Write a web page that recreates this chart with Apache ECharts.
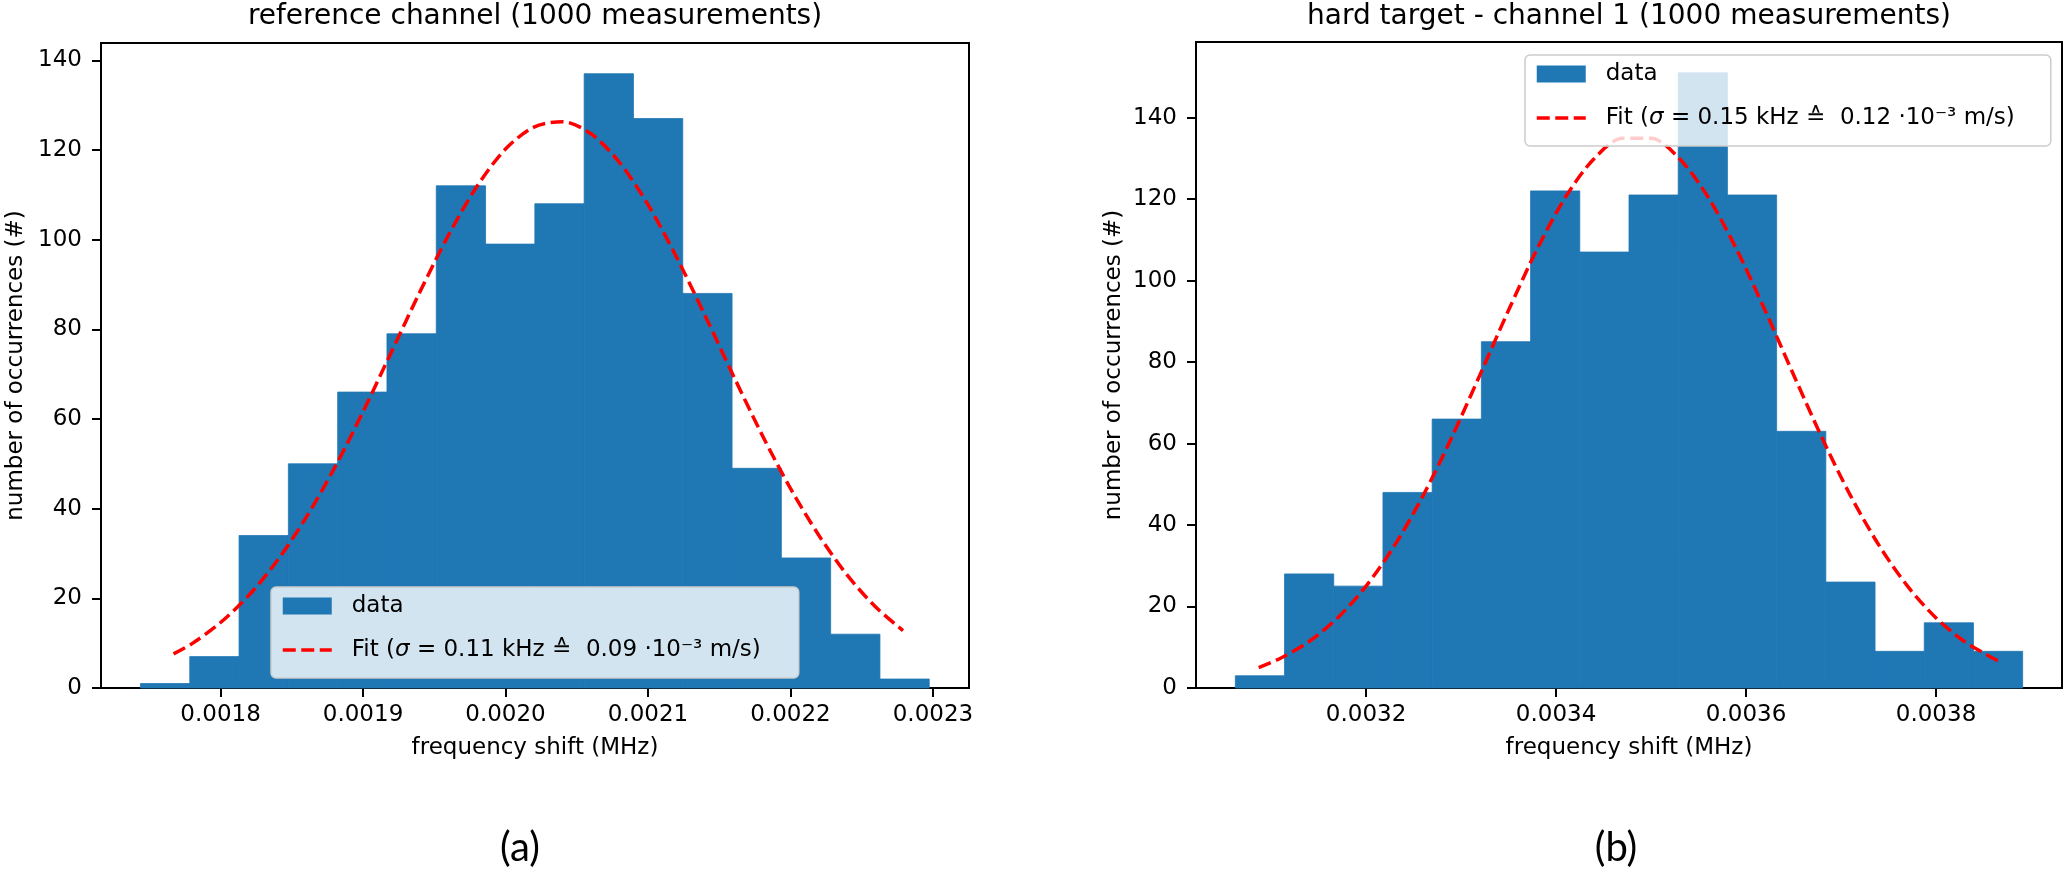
<!DOCTYPE html>
<html><head><meta charset="utf-8">
<script src="https://cdn.jsdelivr.net/npm/echarts@6/dist/echarts.min.js"></script>
<style>html,body{margin:0;padding:0;background:#fff}#c{width:2067px;height:869px}</style>
</head><body><div id="c"></div>
<script>
// ---- chart (a): reference channel ----
const binEdgesA = [0.0017438, 0.0017784, 0.0018130, 0.0018476, 0.0018822, 0.0019168, 0.0019514, 0.0019860, 0.0020206, 0.0020552, 0.0020898, 0.0021244, 0.0021590, 0.0021936, 0.0022282, 0.0022628, 0.0022974];
const countsA = [1, 7, 34, 50, 66, 79, 112, 99, 108, 137, 127, 88, 49, 29, 12, 2];
const fitXA = [0.001767, 0.00178, 0.0018, 0.00182, 0.00184, 0.00186, 0.00188, 0.0019, 0.00192, 0.00194, 0.00196, 0.00198, 0.002, 0.00202, 0.00204, 0.00206, 0.00208, 0.0021, 0.00212, 0.00214, 0.00216, 0.00218, 0.0022, 0.00222, 0.00224, 0.00226, 0.002279];
const fitYA = [7.6, 9.9, 14.6, 20.7, 28.5, 38.0, 49.1, 61.6, 75.0, 88.4, 101.0, 111.9, 120.2, 125.1, 126.3, 123.6, 117.2, 107.8, 96.1, 83.1, 69.6, 56.5, 44.5, 34.0, 25.1, 18.0, 12.8];
const xTicksA = [0.0018, 0.0019, 0.0020, 0.0021, 0.0022, 0.0023];
const yTicksA = [0, 20, 40, 60, 80, 100, 120, 140];
const titleA = 'reference channel (1000 measurements)';
const fitNameA = 'Fit (σ = 0.11 kHz ≙  0.09 ·10⁻³ m/s)';

// ---- chart (b): hard target - channel 1 ----
const binEdgesB = [0.0030624, 0.0031142, 0.0031660, 0.0032178, 0.0032696, 0.0033214, 0.0033732, 0.0034250, 0.0034768, 0.0035286, 0.0035804, 0.0036322, 0.0036840, 0.0037358, 0.0037876, 0.0038394, 0.0038912];
const countsB = [3, 28, 25, 48, 66, 85, 122, 107, 121, 151, 121, 63, 26, 9, 16, 9];
const fitXB = [0.003087, 0.00311, 0.00314, 0.00317, 0.0032, 0.00323, 0.00326, 0.00329, 0.00332, 0.00335, 0.00338, 0.00341, 0.00344, 0.00347, 0.0035, 0.00353, 0.00356, 0.00359, 0.00362, 0.00365, 0.00368, 0.00371, 0.00374, 0.00377, 0.0038, 0.00383, 0.00386, 0.003866];
const fitYB = [5.0, 7.3, 11.4, 17.2, 25.0, 35.0, 47.2, 61.4, 76.9, 92.7, 107.7, 120.5, 129.9, 134.9, 134.9, 129.9, 120.5, 107.7, 92.7, 76.9, 61.4, 47.2, 35.0, 25.0, 17.2, 11.4, 7.3, 6.6];
const xTicksB = [0.0032, 0.0034, 0.0036, 0.0038];
const yTicksB = [0, 20, 40, 60, 80, 100, 120, 140];
const titleB = 'hard target - channel 1 (1000 measurements)';
const fitNameB = 'Fit (σ = 0.15 kHz ≙  0.12 ·10⁻³ m/s)';

const dataName = 'data';
const xName = 'frequency shift (MHz)';
const yName = 'number of occurrences (#)';
const panelLabels = ['(a)', '(b)'];

const FONT = 'DejaVu Sans';
const BLUE = '#1f77b4';
const RED = '#ff0000';
const DASH = [13, 5.5];

function bins(edges, counts) {
  return counts.map((c, i) => [edges[i], edges[i + 1], c]);
}
function pts(xs, ys) { return xs.map((x, i) => [x, ys[i]]); }

function renderBin(params, api) {
  const p0 = api.coord([api.value(0), 0]);
  const p1 = api.coord([api.value(1), api.value(2)]);
  return {
    type: 'rect',
    shape: { x: p0[0], y: p1[1], width: p1[0] - p0[0], height: p0[1] - p1[1] },
    style: { fill: BLUE, stroke: BLUE, lineWidth: 0.8 }
  };
}

function xAxisCfg(idx, min, max, ticks) {
  return {
    type: 'value', gridIndex: idx, min: min, max: max,
    name: xName, nameLocation: 'middle', nameGap: 49,
    nameTextStyle: { fontFamily: FONT, fontSize: 23, color: '#000' },
    axisLine: { onZero: false, lineStyle: { color: '#000', width: 2 } },
    axisTick: { show: true, length: 9, lineStyle: { color: '#000', width: 2 }, customValues: ticks },
    axisLabel: { fontFamily: FONT, fontSize: 23, color: '#000', margin: 16, customValues: ticks,
      formatter: v => Number(v).toFixed(4) },
    splitLine: { show: false }
  };
}
function yAxisCfg(idx, max, ticks, gap) {
  return {
    type: 'value', gridIndex: idx, min: 0, max: max,
    name: yName, nameLocation: 'middle', nameGap: gap,
    nameTextStyle: { fontFamily: FONT, fontSize: 23, color: '#000' },
    axisLine: { onZero: false, lineStyle: { color: '#000', width: 2 } },
    axisTick: { show: true, length: 9, lineStyle: { color: '#000', width: 2 }, customValues: ticks },
    axisLabel: { fontFamily: FONT, fontSize: 23, color: '#000', margin: 19, customValues: ticks },
    splitLine: { show: false }
  };
}
function legendCfg(left, top, fitName, padRight) {
  return {
    left: left, top: top, orient: 'vertical',
    data: [
      { name: dataName, icon: 'rect' },
      { name: fitName, itemStyle: { opacity: 0 }, lineStyle: { color: RED, width: 3.5, type: DASH } }
    ],
    itemWidth: 49, itemHeight: 17, itemGap: 20,
    padding: [7, padRight, 16, 10],
    backgroundColor: 'rgba(255,255,255,0.8)',
    borderColor: '#cccccc', borderWidth: 1.5, borderRadius: 5,
    selectedMode: false,
    textStyle: { fontFamily: FONT, fontSize: 23, color: '#000', lineHeight: 24, padding: [0, 0, 0, 15],
      rich: { i: { fontFamily: FONT, fontSize: 23, fontStyle: 'italic', color: '#000', lineHeight: 24 } } },
    formatter: n => n.replace('σ', '{i|σ}')
  };
}

const chart = echarts.init(document.getElementById('c'), null, { renderer: 'canvas' });
chart.setOption({
  animation: false,
  backgroundColor: '#ffffff',
  grid: [
    { left: 101, right: 2067 - 969, top: 43, bottom: 869 - 688, show: true, borderColor: '#000', borderWidth: 2 },
    { left: 1196, right: 2067 - 2062, top: 42, bottom: 869 - 688, show: true, borderColor: '#000', borderWidth: 2 }
  ],
  xAxis: [xAxisCfg(0, 0.0017161, 0.0023253, xTicksA), xAxisCfg(1, 0.003021, 0.0039326, xTicksB)],
  yAxis: [yAxisCfg(0, 143.85, yTicksA, 73), yAxisCfg(1, 158.55, yTicksB, 70)],
  legend: [legendCfg(271, 587, fitNameA, 38), legendCfg(1525, 55, fitNameB, 36)],
  series: [
    { name: dataName, type: 'custom', xAxisIndex: 0, yAxisIndex: 0, renderItem: renderBin,
      itemStyle: { color: BLUE }, encode: { x: [0, 1], y: 2 }, data: bins(binEdgesA, countsA), z: 2 },
    { name: fitNameA, type: 'line', xAxisIndex: 0, yAxisIndex: 0, data: pts(fitXA, fitYA),
      smooth: 0.3, symbol: 'none', showSymbol: false, z: 3,
      itemStyle: { color: RED },
      lineStyle: { color: RED, width: 3.5, type: DASH } },
    { name: dataName, type: 'custom', xAxisIndex: 1, yAxisIndex: 1, renderItem: renderBin,
      itemStyle: { color: BLUE }, encode: { x: [0, 1], y: 2 }, data: bins(binEdgesB, countsB), z: 2 },
    { name: fitNameB, type: 'line', xAxisIndex: 1, yAxisIndex: 1, data: pts(fitXB, fitYB),
      smooth: 0.3, symbol: 'none', showSymbol: false, z: 3,
      itemStyle: { color: RED },
      lineStyle: { color: RED, width: 3.5, type: DASH } }
  ],
  graphic: [
    { type: 'text', x: 535, y: 17, style: { text: titleA, font: '28px "DejaVu Sans"', fill: '#000', align: 'center', verticalAlign: 'middle' } },
    { type: 'text', x: 1629, y: 17, style: { text: titleB, font: '28px "DejaVu Sans"', fill: '#000', align: 'center', verticalAlign: 'middle' } },
    { type: 'text', x: 520, y: 848, style: { text: panelLabels[0], font: '40px Lato', fill: '#000', align: 'center', verticalAlign: 'middle' } },
    { type: 'text', x: 1616, y: 848, style: { text: panelLabels[1], font: '40px Lato', fill: '#000', align: 'center', verticalAlign: 'middle' } }
  ]
});
</script></body></html>
